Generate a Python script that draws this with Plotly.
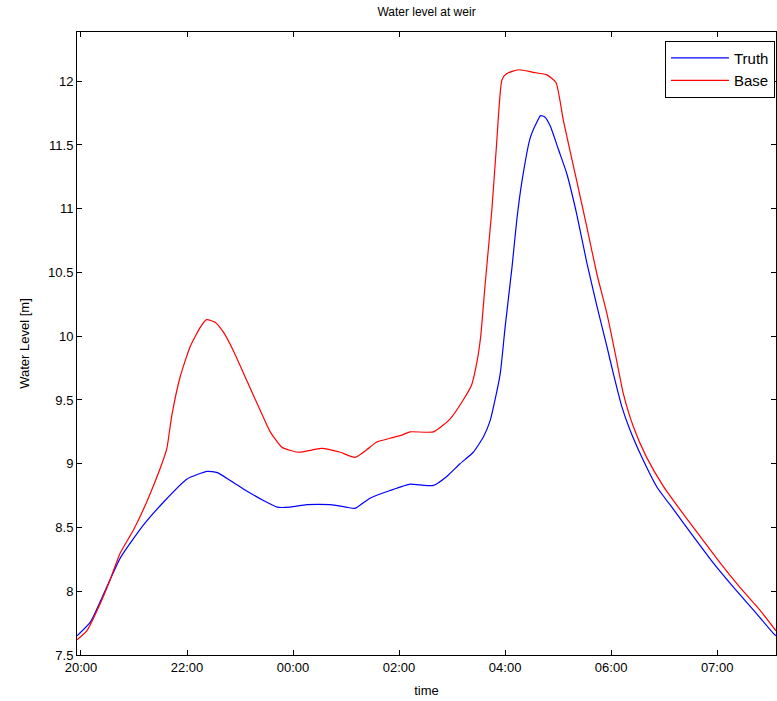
import plotly.graph_objects as go

# hours after 20:00
truth_t = [-0.075, 0.18, 0.43, 0.74, 1.18, 1.56, 2.0, 2.38, 2.57, 3.07, 3.45, 3.70, 3.95, 4.26, 4.7, 5.0, 5.17,
           5.45, 5.83, 6.21, 6.46, 6.65, 6.90, 7.15, 7.40, 7.59, 7.72, 7.81, 7.91, 8.0, 8.13, 8.22, 8.32,
           8.47, 8.60, 8.67, 8.75, 8.85, 9.01, 9.16, 9.35, 9.54, 9.73, 9.92, 10.04, 10.20, 10.36, 10.58,
           10.86, 11.18, 11.55, 11.93, 12.31, 12.69, 13.06, 13.11]
truth_v = [7.65, 7.76, 7.98, 8.26, 8.52, 8.70, 8.88, 8.94, 8.93, 8.80, 8.71, 8.66, 8.66, 8.68, 8.68, 8.66, 8.65,
           8.73, 8.79, 8.84, 8.83, 8.83, 8.90, 9.00, 9.09, 9.21, 9.34, 9.50, 9.71, 10.07, 10.54, 10.91, 11.22,
           11.55, 11.68, 11.73, 11.72, 11.65, 11.46, 11.28, 10.96, 10.58, 10.24, 9.92, 9.71, 9.45, 9.26, 9.05,
           8.82, 8.64, 8.43, 8.22, 8.03, 7.85, 7.67, 7.65]

base_t = [-0.075, 0.11, 0.36, 0.55, 0.74, 0.99, 1.25, 1.50, 1.62, 1.71, 1.87, 2.06, 2.25, 2.37, 2.53, 2.69,
          2.87, 3.13, 3.38, 3.57, 3.79, 4.10, 4.54, 4.89, 5.17, 5.39, 5.58, 5.83, 6.02, 6.21, 6.65, 6.96,
          7.21, 7.37, 7.47, 7.54, 7.62, 7.75, 7.84, 7.94, 8.03, 8.25, 8.53, 8.79, 8.96, 9.10, 9.35, 9.54,
          9.73, 9.92, 10.08, 10.23, 10.42, 10.67, 10.99, 11.30, 11.68, 12.06, 12.43, 12.81, 13.11]
base_v = [7.62, 7.69, 7.90, 8.09, 8.30, 8.48, 8.71, 8.97, 9.12, 9.37, 9.68, 9.92, 10.07, 10.13, 10.11, 10.03,
          9.89, 9.65, 9.42, 9.25, 9.13, 9.09, 9.12, 9.09, 9.05, 9.11, 9.17, 9.20, 9.22, 9.25, 9.25, 9.35,
          9.50, 9.62, 9.80, 10.00, 10.39, 10.99, 11.51, 12.01, 12.06, 12.09, 12.07, 12.05, 11.99, 11.69, 11.22, 10.86,
          10.49, 10.18, 9.86, 9.55, 9.29, 9.05, 8.82, 8.64, 8.43, 8.22, 8.03, 7.85, 7.69]

tick_vals = [0, 2, 4, 6, 8, 10, 12]
tick_text = ["20:00", "22:00", "00:00", "02:00", "04:00", "06:00", "07:00"]
y_ticks = [7.5, 8, 8.5, 9, 9.5, 10, 10.5, 11, 11.5, 12]
y_text = ["7.5", "8", "8.5", "9", "9.5", "10", "10.5", "11", "11.5", "12"]

FONT = "Liberation Sans, Arial"

fig = go.Figure()
fig.add_trace(go.Scatter(x=truth_t, y=truth_v, mode="lines", name="Truth",
                         line=dict(color="#0000ff", width=1.2, shape="spline", smoothing=0.5)))
fig.add_trace(go.Scatter(x=base_t, y=base_v, mode="lines", name="Base",
                         line=dict(color="#ff0000", width=1.2, shape="spline", smoothing=0.5)))

axis_common = dict(showline=True, linecolor="black", linewidth=1, mirror="ticks", ticks="inside",
                   ticklen=5, tickcolor="black", showgrid=False, zeroline=False,
                   tickfont=dict(family=FONT, size=13, color="black"))

fig.update_layout(
    width=777, height=701,
    margin=dict(l=77, r=1, t=32, b=46, autoexpand=False),
    paper_bgcolor="white", plot_bgcolor="white",
    title=dict(text="Water level at weir", x=0.5, xref="paper", y=1 - 12/701, yanchor="middle",
               font=dict(family=FONT, size=12, color="black")),
    xaxis=dict(range=[-0.075, 13.11], tickmode="array", tickvals=tick_vals, ticktext=tick_text,
               title=dict(text="time", standoff=12, font=dict(family=FONT, size=13, color="black")),
               **axis_common),
    yaxis=dict(range=[7.5, 12.386], tickmode="array", tickvals=y_ticks, ticktext=y_text,
               title=dict(text="Water Level [m]", standoff=15, font=dict(family=FONT, size=13, color="black")),
               **axis_common),
    legend=dict(x=0.9985, xanchor="right", y=0.986, yanchor="top", bgcolor="white",
                bordercolor="black", borderwidth=1, tracegroupgap=0, itemwidth=58,
                font=dict(family=FONT, size=15, color="black")),
    showlegend=True,
)

fig.write_html("out.html", config={"displayModeBar": False},
               post_script="document.body.style.margin='0';")
